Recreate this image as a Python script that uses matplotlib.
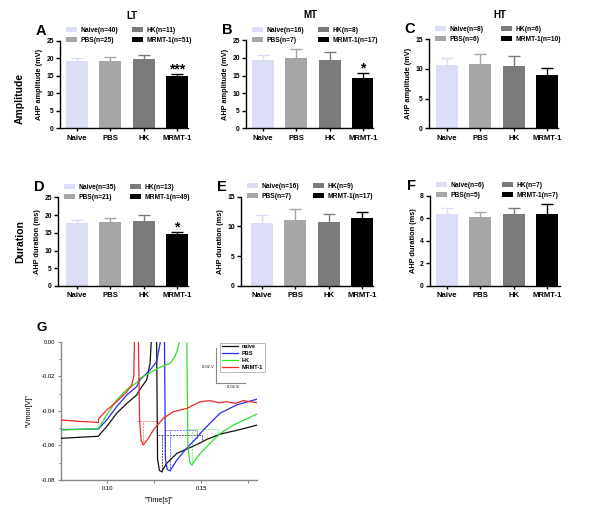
import matplotlib
matplotlib.use('Agg')
import matplotlib.pyplot as plt
from matplotlib.patches import Patch
from matplotlib.lines import Line2D
from matplotlib.ticker import FixedLocator, FixedFormatter

plt.rcParams['font.family'] = ['Liberation Sans', 'DejaVu Sans']

# ---------------- data ----------------
groups = ['Naive', 'PBS', 'HK', 'MRMT-1']
bar_colors = ['#DCDDF7', '#A6A6A6', '#7B7B7B', '#000000']

lt_amp_mean = [19.3, 19.1, 19.9, 14.8]
lt_amp_sem = [0.9, 1.15, 1.15, 0.6]
lt_amp_n = [40, 25, 11, 51]
lt_amp_sig = ['', '', '', '***']

mt_amp_mean = [19.5, 20.1, 19.5, 14.3]
mt_amp_sem = [1.4, 2.5, 2.2, 1.3]
mt_amp_n = [16, 7, 8, 17]
mt_amp_sig = ['', '', '', '*']

ht_amp_mean = [10.7, 10.8, 10.5, 8.9]
ht_amp_sem = [1.2, 1.7, 1.7, 1.3]
ht_amp_n = [8, 6, 6, 10]
ht_amp_sig = ['', '', '', '']

lt_dur_mean = [17.7, 17.9, 18.3, 14.7]
lt_dur_sem = [1.0, 1.2, 1.6, 0.5]
lt_dur_n = [35, 21, 13, 49]
lt_dur_sig = ['', '', '', '*']

mt_dur_mean = [10.6, 11.1, 10.7, 11.4]
mt_dur_sem = [1.3, 1.8, 1.4, 1.0]
mt_dur_n = [16, 7, 9, 17]
mt_dur_sig = ['', '', '', '']

ht_dur_mean = [6.34, 6.08, 6.34, 6.34]
ht_dur_sem = [0.6, 0.5, 0.55, 0.9]
ht_dur_n = [6, 5, 7, 7]
ht_dur_sig = ['', '', '', '']

# voltage traces (time s, voltage V)
naive_t = [0.0753, 0.0850, 0.0952, 0.0965, 0.0997, 0.1050, 0.1104, 0.1157, 0.1174, 0.1210, 0.1228,
           0.1250, 0.1263, 0.1268, 0.1278, 0.1290, 0.1317, 0.1371, 0.1442, 0.1496, 0.1531, 0.1601,
           0.1708, 0.1800]
naive_v = [-0.0559, -0.0553, -0.0547, -0.0530, -0.0491, -0.0414, -0.0357, -0.0308, -0.0276, -0.0221,
           -0.0125, 0.03, 0.0, -0.068, -0.0745, -0.0752, -0.0703, -0.0646, -0.0612, -0.0585, -0.0565,
           -0.0535, -0.0508, -0.0482]

pbs_t = [0.0753, 0.0952, 0.0965, 0.0997, 0.1050, 0.1104, 0.1157, 0.1174, 0.1228, 0.1263, 0.1283,
         0.1294, 0.1305, 0.1310, 0.1320, 0.1335, 0.1371, 0.1424, 0.1478, 0.1496, 0.1531, 0.1601,
         0.1691, 0.1800]
pbs_v = [-0.0508, -0.0505, -0.0490, -0.0453, -0.0376, -0.0308, -0.0260, -0.0221, -0.0164, -0.0116,
         0.0, 0.03, 0.0, -0.068, -0.0740, -0.0746, -0.0685, -0.0615, -0.0555, -0.0530, -0.0490,
         -0.0414, -0.0365, -0.0332]

hk_t = [0.0753, 0.0952, 0.0965, 0.0997, 0.1050, 0.1104, 0.1157, 0.1174, 0.1228, 0.1281, 0.1335,
        0.1361, 0.1376, 0.1385, 0.1404, 0.1424, 0.1430, 0.1440, 0.1451, 0.1495, 0.1548, 0.1602,
        0.1673, 0.1800]
hk_v = [-0.0511, -0.0503, -0.0480, -0.0424, -0.0337, -0.0276, -0.0237, -0.0212, -0.0179, -0.0148,
        -0.0125, -0.0085, -0.0040, 0.0, 0.03, 0.0, -0.060, -0.0700, -0.0713, -0.0646, -0.0588,
        -0.0530, -0.0482, -0.0418]

mrmt_t = [0.0753, 0.0854, 0.0952, 0.0954, 0.0997, 0.1050, 0.1104, 0.1130, 0.1141, 0.1145, 0.1155,
          0.1166, 0.1172, 0.1180, 0.1192, 0.1219, 0.1245, 0.1299, 0.1352, 0.1424, 0.1495, 0.1548,
          0.1593, 0.1637, 0.1682, 0.1726, 0.1800]
mrmt_v = [-0.0453, -0.0461, -0.0467, -0.0445, -0.0395, -0.0347, -0.0289, -0.0251, -0.0203, 0.0,
          0.03, 0.0, -0.045, -0.0570, -0.0597, -0.0559, -0.0511, -0.0443, -0.0405, -0.0386, -0.0347,
          -0.0341, -0.0353, -0.0347, -0.0357, -0.0341, -0.0353]

# AHP measurement boxes: threshold, start t, trough t, trough v, end t, end v
naive_box = [-0.0540, 0.1272, 0.1290, -0.0752, 0.1507, -0.0570]
pbs_box = [-0.0511, 0.1308, 0.1335, -0.0746, 0.1478, -0.0555]
hk_box = [-0.0507, 0.1424, 0.1451, -0.0713, 0.1588, -0.0545]
mrmt_box = [-0.0457, 0.1160, 0.1192, -0.0597, 0.1272, -0.0475]

trace_labels = ['naive', 'PBS', 'HK', 'MRMT-1']
trace_colors = ['#111111', '#2B2BF0', '#2FE02F', '#F02828']
box_colors = ['#555555', '#7070F5', '#8AE88A', '#F59090']

# ---------------- figure ----------------
W, H = 600, 512
fig = plt.figure(figsize=(6.0, 5.12), dpi=100)


def rect(left, right, top, bottom):
    return [left / W, 1 - bottom / H, (right - left) / W, (bottom - top) / H]


S = 33.3  # px per category
panels = [
    ('A', (60, 188, 40.7, 128.3), 77, 25, 5, lt_amp_mean, lt_amp_sem, lt_amp_n, lt_amp_sig, 'AHP amplitude (mV)'),
    ('B', (246, 373, 40.3, 128.3), 263, 25, 5, mt_amp_mean, mt_amp_sem, mt_amp_n, mt_amp_sig, 'AHP amplitude (mV)'),
    ('C', (429, 558, 39.3, 128.3), 447, 15, 5, ht_amp_mean, ht_amp_sem, ht_amp_n, ht_amp_sig, 'AHP amplitude (mV)'),
    ('D', (58, 188, 197.3, 286), 77, 25, 5, lt_dur_mean, lt_dur_sem, lt_dur_n, lt_dur_sig, 'AHP duration (ms)'),
    ('E', (241, 373, 196.7, 286), 262, 15, 5, mt_dur_mean, mt_dur_sem, mt_dur_n, mt_dur_sig, 'AHP duration (ms)'),
    ('F', (430, 560, 195.7, 286), 447, 8, 2, ht_dur_mean, ht_dur_sem, ht_dur_n, ht_dur_sig, 'AHP duration (ms)'),
]

bold = dict(fontweight='bold')
x = list(range(len(groups)))
leg_kw = dict(loc='upper left', frameon=False, bbox_transform=fig.transFigure,
              prop=dict(size=4.8, weight='bold'), handlelength=1.7, handleheight=0.75,
              handletextpad=0.45, labelspacing=0.45, borderaxespad=0, borderpad=0)
for letter, (l, r, t, b), c0, ymax, ystep, means, sems, ns, sig, ylab in panels:
    ax = fig.add_axes(rect(l, r, t, b))
    ax.bar(x, means, width=0.66, color=bar_colors, edgecolor='none', zorder=2)
    for i in x:
        ax.errorbar(i, means[i], yerr=sems[i], fmt='none', ecolor=bar_colors[i],
                    elinewidth=1.0, capsize=4.2, capthick=1.0, zorder=1)
        if sig[i]:
            ax.text(i, means[i] + sems[i] - ymax * 0.025, sig[i], ha='center', va='bottom',
                    fontsize=10, fontweight='bold', color='black')
    ax.set_xlim(-(c0 - l) / S, (r - c0) / S)
    ax.set_ylim(0, ymax)
    ax.set_yticks(list(range(0, ymax + 1, ystep)))
    ax.set_xticks(x)
    ax.set_xticklabels(groups, fontsize=5.6, fontweight='bold')
    for lab in ax.get_yticklabels():
        lab.set_fontsize(4.9)
        lab.set_fontweight('bold')
    ax.tick_params(axis='y', length=3, width=1, pad=1.5)
    ax.tick_params(axis='x', length=2.5, width=1, pad=2)
    for s in ['top', 'right']:
        ax.spines[s].set_visible(False)
    for s in ['left', 'bottom']:
        ax.spines[s].set_linewidth(1.0)
    ax.set_ylabel(ylab, fontsize=5.3, fontweight='bold', labelpad=2)
    handles = [Patch(facecolor=bar_colors[i], edgecolor='none') for i in x]
    labels = [f'{groups[i]}(n={ns[i]})' for i in x]
    leg1 = ax.legend(handles[:2], labels[:2], bbox_to_anchor=((l + 6) / W, 1 - (t - 13.5) / H), **leg_kw)
    ax.add_artist(leg1)
    ax.legend(handles[2:], labels[2:], bbox_to_anchor=((l + 72) / W, 1 - (t - 13.5) / H), **leg_kw)
    fig.text((l - 19) / W, 1 - (t - 10) / H, letter, fontsize=10.5, fontweight='bold', ha='center', va='center')

# column titles and row labels
fig.text(132 / W, 1 - 16 / H, 'LT', fontsize=7, ha='center', va='center', **bold)
fig.text(310 / W, 1 - 15 / H, 'MT', fontsize=7, ha='center', va='center', **bold)
fig.text(500 / W, 1 - 15 / H, 'HT', fontsize=7, ha='center', va='center', **bold)
fig.text(20 / W, 1 - 98 / H, 'Amplitude', fontsize=7.5, rotation=90, ha='center', va='center', **bold)
fig.text(20 / W, 1 - 242 / H, 'Duration', fontsize=7.5, rotation=90, ha='center', va='center', **bold)

# ---------------- panel G ----------------
axg = fig.add_axes(rect(61, 257.3, 341.7, 480))
traces = [(naive_t, naive_v), (pbs_t, pbs_v), (hk_t, hk_v), (mrmt_t, mrmt_v)]
boxes = [naive_box, pbs_box, hk_box, mrmt_box]
lines = []
for (tt, vv), col, lab in zip(traces, trace_colors, trace_labels):
    ln, = axg.plot(tt, vv, color=col, lw=0.9, label=lab, zorder=3)
    lines.append(ln)
for bx, col in zip(boxes, box_colors):
    thr, t0, tt, tv, te, ve = bx
    kw = dict(color=col, lw=0.7, linestyle=(0, (2, 1)), zorder=2)
    axg.plot([t0, te], [thr, thr], **kw)
    axg.plot([tt, tt], [tv, thr], **kw)
    axg.plot([te, te], [ve, thr], **kw)

axg.set_xlim(0.0753, 0.180)
axg.set_ylim(-0.08, 0.0)
axg.xaxis.set_major_locator(FixedLocator([0.10, 0.15]))
axg.xaxis.set_major_formatter(FixedFormatter(['0.10', '0.15']))
axg.xaxis.set_minor_locator(FixedLocator([0.125, 0.175]))
axg.yaxis.set_major_locator(FixedLocator([-0.08, -0.06, -0.04, -0.02, 0.0]))
axg.yaxis.set_major_formatter(FixedFormatter(['-0.08', '-0.06', '-0.04', '-0.02', '0.00']))
axg.yaxis.set_minor_locator(FixedLocator([-0.07, -0.05, -0.03, -0.01]))
axg.tick_params(which='both', length=2.5, width=0.8, color='#888888', labelsize=4.2, pad=2)
axg.tick_params(which='minor', length=1.8)
for s in ['top', 'right']:
    axg.spines[s].set_visible(False)
for s in ['left', 'bottom']:
    axg.spines[s].set_color('#888888')
    axg.spines[s].set_linewidth(1.0)
axg.set_xlabel('"Time[s]"', fontsize=5.2, labelpad=4)
axg.set_ylabel('"Vmon[V]"', fontsize=5.2, labelpad=6)
fig.text(42 / W, 1 - 328 / H, 'G', fontsize=9.5, fontweight='bold', ha='center', va='center')

leg = axg.legend(lines, trace_labels, loc='upper left', bbox_to_anchor=(220 / W, 1 - 342.5 / H),
                 bbox_transform=fig.transFigure, frameon=True, fancybox=False,
                 prop=dict(size=4.0, weight='bold'), handlelength=3.0, handletextpad=0.6,
                 labelspacing=0.35, borderpad=0.3, borderaxespad=0)
leg.get_frame().set_edgecolor('#999999')
leg.get_frame().set_linewidth(0.6)

# scale bar
sb = dict(color='#888888', lw=0.8, transform=fig.transFigure)
fig.add_artist(Line2D([216 / W, 216 / W], [1 - 348 / H, 1 - 383.3 / H], **sb))
fig.add_artist(Line2D([216 / W, 245 / W], [1 - 383.3 / H, 1 - 383.3 / H], **sb))
fig.text(208 / W, 1 - 367 / H, '0.02 V', fontsize=3, ha='center', va='center')
fig.text(233 / W, 1 - 387.5 / H, '0.02 S', fontsize=3, ha='center', va='center')

fig.savefig('out.png', dpi=100)
